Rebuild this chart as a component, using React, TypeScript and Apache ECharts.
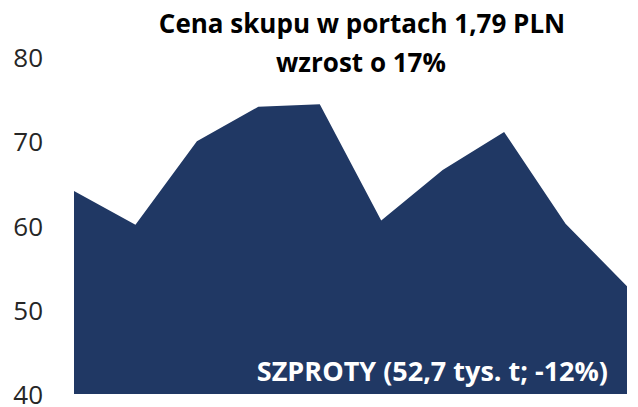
import React, { useEffect, useRef } from "react";
import * as echarts from "echarts";

const categories = ["1", "2", "3", "4", "5", "6", "7", "8", "9", "10"];
const values = [64.1, 60.1, 70.0, 74.1, 74.4, 60.6, 66.6, 71.1, 60.2, 52.8];
const yTicks = [40, 50, 60, 70, 80];
const titleLines = ["Cena skupu w portach 1,79 PLN", "wzrost o 17%"];
const annotation = "SZPROTY (52,7 tys. t; -12%)";

export default function App() {
  const ref = useRef<HTMLDivElement>(null);
  useEffect(() => {
    document.body.style.margin = "0";
    const chart = echarts.init(ref.current!, null, { renderer: "svg" });
    chart.setOption({
      animation: false,
      grid: { left: 74, right: 11, top: 57, bottom: 11 },
      xAxis: {
        type: "category",
        data: categories,
        boundaryGap: false,
        show: false,
      },
      yAxis: {
        type: "value",
        min: yTicks[0],
        max: yTicks[yTicks.length - 1],
        interval: 10,
        axisLine: { show: false },
        axisTick: { show: false },
        splitLine: { show: false },
        axisLabel: {
          margin: 31,
          fontSize: 26,
          fontFamily: "Open Sans",
          color: "#262626",
        },
      },
      series: [
        {
          type: "line",
          data: values,
          symbol: "none",
          lineStyle: { width: 0 },
          areaStyle: { color: "#203864", opacity: 1, origin: "start" },
        },
      ],
      graphic: [
        {
          type: "text",
          x: 362,
          y: 23,
          z: 100,
          style: {
            text: titleLines[0],
            fontFamily: "Open Sans",
            fontWeight: "bold",
            fontSize: 26,
            fill: "#000",
            align: "center",
            verticalAlign: "middle",
          },
        },
        {
          type: "text",
          x: 361,
          y: 62,
          z: 100,
          style: {
            text: titleLines[1],
            fontFamily: "Open Sans",
            fontWeight: "bold",
            fontSize: 26,
            fill: "#000",
            align: "center",
            verticalAlign: "middle",
          },
        },
        {
          type: "text",
          x: 608,
          y: 370,
          z: 100,
          style: {
            text: annotation,
            fontFamily: "Open Sans",
            fontWeight: "bold",
            fontSize: 27,
            fill: "#fff",
            align: "right",
            verticalAlign: "middle",
          },
        },
      ],
    });
    return () => chart.dispose();
  }, []);
  return <div ref={ref} style={{ width: 638, height: 407 }} />;
}
